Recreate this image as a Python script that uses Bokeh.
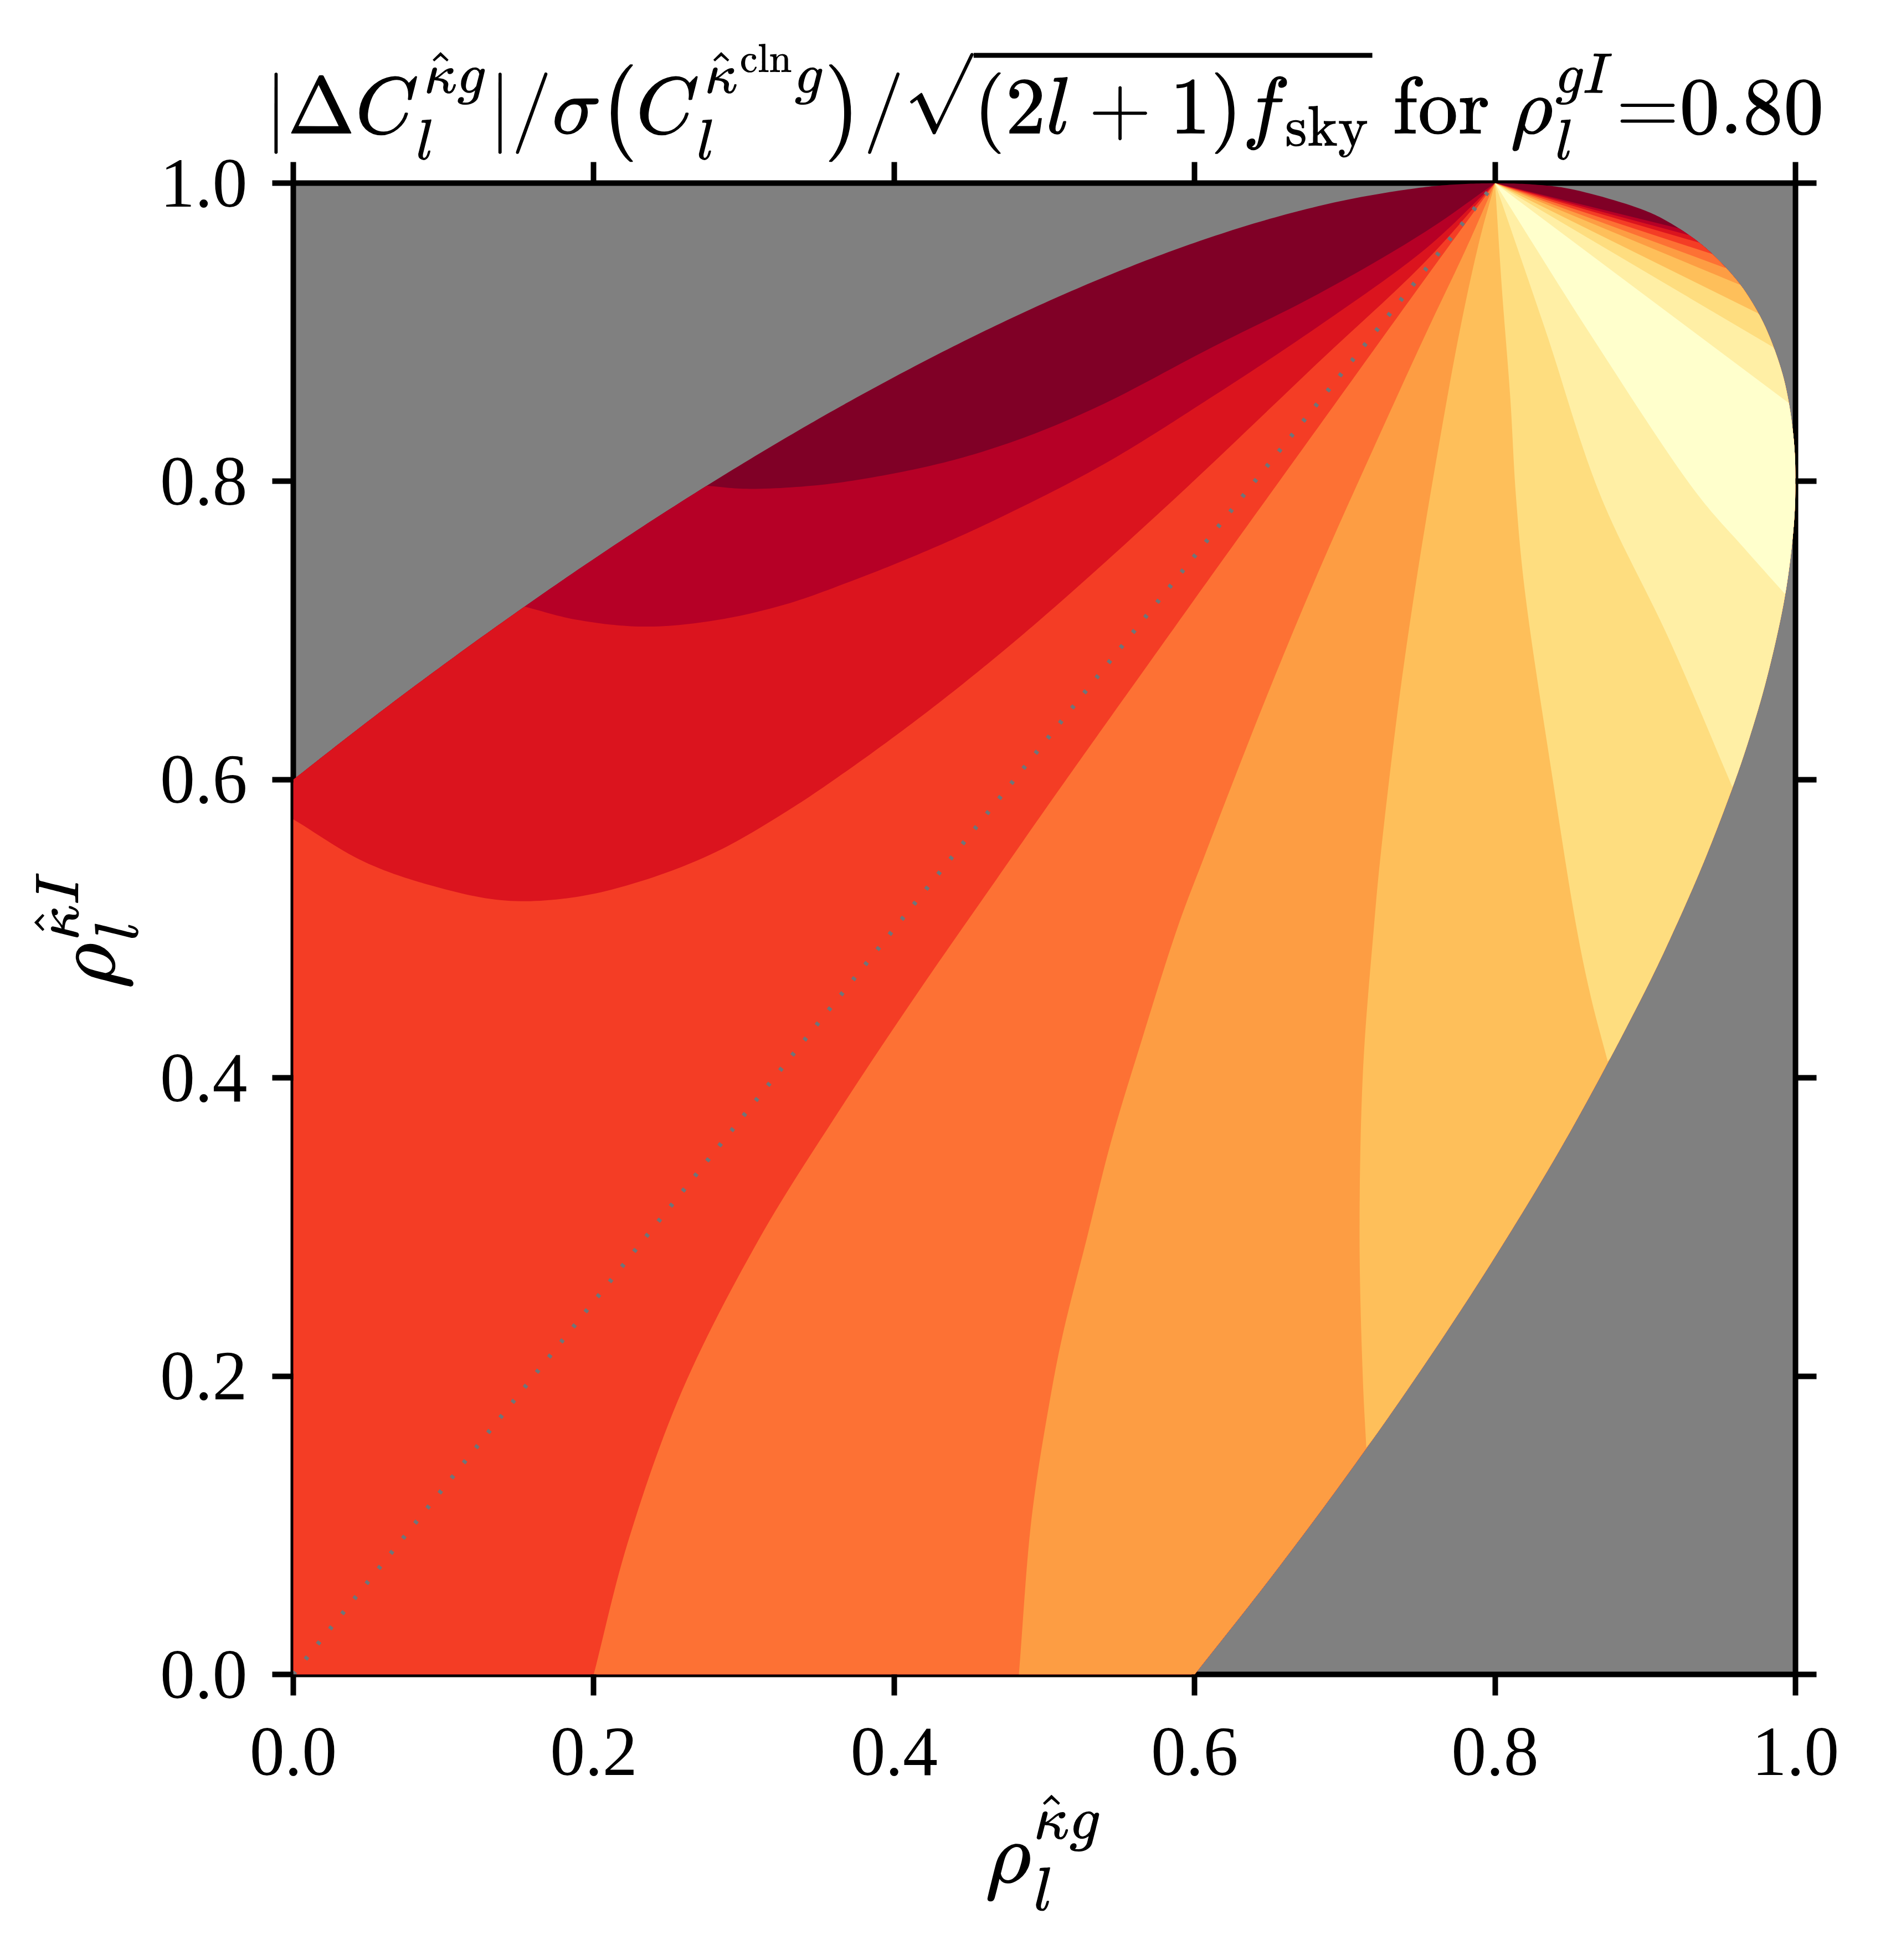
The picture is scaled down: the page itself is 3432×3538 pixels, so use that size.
from bokeh.plotting import figure
from bokeh.models import Range1d, FixedTicker, LinearAxis, PrintfTickFormatter
from bokeh.embed import file_html
from bokeh.resources import INLINE

# ---------------- data ----------------
rho_gI = 0.80
tick_values = [0.0, 0.2, 0.4, 0.6, 0.8, 1.0]

# band colours, lowest value (k0) to highest (k9)
band_colors = ["#ffffcc", "#ffefa5", "#fedd7f", "#febf5a", "#fd9d43",
               "#fd7134", "#f43d25", "#db141e", "#b60026", "#800026"]

# edge of the allowed (positive-definite) region, counter-clockwise from the apex (0.8, 1.0)
edge_x = [0.8, 0.775, 0.75, 0.7, 0.65, 0.6, 0.55, 0.5, 0.45, 0.4, 0.35, 0.3, 0.25, 0.2, 0.15,
          0.1, 0.05, 0.0, 0.0, 0.6, 0.65, 0.7, 0.75, 0.8, 0.85, 0.9, 0.92, 0.94, 0.96, 0.97,
          0.98, 0.99, 0.995, 0.999, 1.0, 0.999, 0.995, 0.99, 0.98, 0.97, 0.96, 0.94, 0.92,
          0.9, 0.85, 0.825, 0.8]
edge_y = [1.0, 0.9992, 0.9969, 0.9885, 0.976, 0.96, 0.9411, 0.9196, 0.8958, 0.8699, 0.8421,
          0.8124, 0.781, 0.7479, 0.7132, 0.677, 0.6393, 0.6, 0.0, 0.0, 0.064, 0.1315, 0.2031,
          0.28, 0.3639, 0.4585, 0.5009, 0.5473, 0.6, 0.6301, 0.6646, 0.7074, 0.7361, 0.7724,
          0.8, 0.826, 0.8559, 0.8766, 0.9034, 0.9219, 0.936, 0.9567, 0.9712, 0.9815, 0.9961,
          0.9991, 1.0]
edge_corners = [17, 18, 19]   # sharp corners of the region: (0,0.6), (0,0), (0.6,0)

# contour lines on the left/lower side of the light wedge (from the apex to the edge)
c98_x = [0.8, 0.7539, 0.6824, 0.611, 0.5395, 0.4898, 0.4428, 0.3957, 0.3487, 0.3017, 0.276]
c98_y = [1.0, 0.9676, 0.9257, 0.8896, 0.852, 0.8306, 0.8152, 0.8045, 0.7974, 0.795, 0.797]
c87_x = [0.8, 0.7539, 0.6824, 0.611, 0.5395, 0.4663, 0.4192, 0.3722, 0.3272, 0.2802, 0.2332, 0.1881, 0.154]
c87_y = [1.0, 0.9561, 0.904, 0.8563, 0.8115, 0.7737, 0.7524, 0.7334, 0.7174, 0.7067, 0.7026, 0.7073, 0.716]
c76_x = [0.8, 0.7539, 0.6824, 0.611, 0.5763, 0.5133, 0.4663, 0.4192, 0.3705, 0.3292, 0.2822,
         0.2352, 0.1881, 0.1411, 0.094, 0.047, 0.0]
c76_y = [1.0, 0.9477, 0.8798, 0.8113, 0.7787, 0.7214, 0.681, 0.6433, 0.6073, 0.5792, 0.5519,
         0.5331, 0.5213, 0.5189, 0.5284, 0.545, 0.5734]
c65_x = [0.8, 0.7539, 0.6824, 0.611, 0.5763, 0.5395, 0.5026, 0.468, 0.4139, 0.3621,
         0.3104, 0.2587, 0.2225, 0.2]
c65_y = [1.0, 0.9365, 0.8365, 0.7365, 0.6875, 0.6355, 0.583, 0.533, 0.4545, 0.376,
         0.2925, 0.19, 0.0879, 0.0]
c54_x = [0.8, 0.7807, 0.7549, 0.7182, 0.6824, 0.6467, 0.6056, 0.5889, 0.5635, 0.5442, 0.5282,
         0.5122, 0.5035, 0.4915, 0.483]
c54_y = [1.0, 0.956, 0.9011, 0.8202, 0.7393, 0.6526, 0.5462, 0.5016, 0.4211, 0.3566, 0.2922,
         0.2278, 0.183, 0.105, 0.0]
c43_x = [0.8, 0.7897, 0.7771, 0.7629, 0.7485, 0.736, 0.7235, 0.7194, 0.7121, 0.7098, 0.7121, 0.7143]
c43_y = [1.0, 0.9618, 0.904, 0.826, 0.7393, 0.6526, 0.5462, 0.5016, 0.405, 0.2922, 0.1955, 0.152]
c32_x = [0.8, 0.8045, 0.8102, 0.8138, 0.8197, 0.8384, 0.8544, 0.864, 0.875]
c32_y = [1.0, 0.93, 0.855, 0.7916, 0.7277, 0.6, 0.4998, 0.4533, 0.411]
c21_x = [0.8, 0.834, 0.8697, 0.916, 0.958]
c21_y = [1.0, 0.9, 0.7916, 0.6938, 0.595]
c10_x = [0.8, 0.8656, 0.9345, 0.966, 0.993]
c10_y = [1.0, 0.8952, 0.7916, 0.755, 0.7245]

# contour lines on the upper-right side of the light wedge (apex to edge)
u10_x = [0.8, 0.9955]
u10_y = [1.0, 0.8525]
u21_x = [0.8, 0.985]
u21_y = [1.0, 0.89]
u32_x = [0.8, 0.975]
u32_y = [1.0, 0.9127]
u43_x = [0.8, 0.963]
u43_y = [1.0, 0.9318]
u54_x = [0.8, 0.953]
u54_y = [1.0, 0.9432]
u65_x = [0.8, 0.944]
u65_y = [1.0, 0.9526]
u76_x = [0.8, 0.935]
u76_y = [1.0, 0.9603]
u87_x = [0.8, 0.928]
u87_y = [1.0, 0.9654]
u98_x = [0.8, 0.922]
u98_y = [1.0, 0.9697]

# dotted line rho^{kI} = rho^{kg} / rho^{gI}
dot_x = [0.0, 0.8]
dot_y = [0.0, 1.0]

TITLE = (r"$$|\Delta C_l^{\hat{\kappa}g}|/\sigma\bigl(C_l^{\hat{\kappa}^{\mathrm{cln}}g}\bigr)"
         r"/\sqrt{\smash[b]{(2l+1)f_{\mathrm{sky}}}}\ \text{for}\ \rho_l^{gI}\text{=0.80}$$")
XLABEL = r"$$\rho_l^{\hat{\kappa}g}$$"
YLABEL = r"$$\rho_l^{\hat{\kappa}I}$$"


# ---------------- geometry helpers (smoothing of the read points) ----------------
def _lerp(p, q, ta, tb, t):
    if tb == ta:
        return p
    a = (tb - t) / (tb - ta)
    b = (t - ta) / (tb - ta)
    return (a * p[0] + b * q[0], a * p[1] + b * q[1])


def smooth(xs, ys, n=14):
    pts = list(zip(xs, ys))
    if len(pts) < 3:
        return list(xs), list(ys)
    first = (2 * pts[0][0] - pts[1][0], 2 * pts[0][1] - pts[1][1])
    last = (2 * pts[-1][0] - pts[-2][0], 2 * pts[-1][1] - pts[-2][1])
    P = [first] + pts + [last]
    ox, oy = [pts[0][0]], [pts[0][1]]

    def tj(ti, a, b):
        return ti + max(((b[0] - a[0]) ** 2 + (b[1] - a[1]) ** 2) ** 0.25, 1e-9)

    for i in range(1, len(P) - 2):
        a, b, c, d = P[i - 1], P[i], P[i + 1], P[i + 2]
        t0 = 0.0
        t1 = tj(t0, a, b)
        t2 = tj(t1, b, c)
        t3 = tj(t2, c, d)
        for k in range(1, n + 1):
            t = t1 + (t2 - t1) * k / n
            A1 = _lerp(a, b, t0, t1, t)
            A2 = _lerp(b, c, t1, t2, t)
            A3 = _lerp(c, d, t2, t3, t)
            B1 = _lerp(A1, A2, t0, t2, t)
            B2 = _lerp(A2, A3, t1, t3, t)
            C = _lerp(B1, B2, t1, t2, t)
            ox.append(C[0])
            oy.append(C[1])
    return ox, oy


def smooth_edge():
    cuts = [0] + edge_corners + [len(edge_x) - 1]
    ox, oy = [], []
    for s, e in zip(cuts[:-1], cuts[1:]):
        sx, sy = smooth(edge_x[s:e + 1], edge_y[s:e + 1])
        if ox:
            sx, sy = sx[1:], sy[1:]
        ox += sx
        oy += sy
    return ox, oy


EX, EY = smooth_edge()


def _edge_params():
    out = [0.0]
    for i in range(len(EX) - 1):
        dx = EX[i + 1] - EX[i]
        dy = EY[i + 1] - EY[i]
        out.append(out[-1] + (dx * dx + dy * dy) ** 0.5)
    return out


EDGE_T = _edge_params()


def edge_param(px, py):
    best = None
    for i in range(len(EX) - 1):
        ax, ay = EX[i], EY[i]
        dx, dy = EX[i + 1] - ax, EY[i + 1] - ay
        l2 = dx * dx + dy * dy
        if l2 == 0:
            continue
        t = max(0.0, min(1.0, ((px - ax) * dx + (py - ay) * dy) / l2))
        d = (ax + t * dx - px) ** 2 + (ay + t * dy - py) ** 2
        if best is None or d < best[0]:
            best = (d, EDGE_T[i] + t * l2 ** 0.5)
    return best[1]


def region(lx, ly, ux, uy):
    lx, ly = smooth(lx, ly)
    ux, uy = smooth(ux, uy)
    tl = edge_param(lx[-1], ly[-1])
    tu = edge_param(ux[-1], uy[-1])
    xs, ys = list(lx), list(ly)
    for x, y, t in zip(EX, EY, EDGE_T):
        if tl < t < tu:
            xs.append(x)
            ys.append(y)
    xs += list(reversed(ux))
    ys += list(reversed(uy))
    return xs, ys


pairs = [(c98_x, c98_y, u98_x, u98_y), (c87_x, c87_y, u87_x, u87_y),
         (c76_x, c76_y, u76_x, u76_y), (c65_x, c65_y, u65_x, u65_y),
         (c54_x, c54_y, u54_x, u54_y), (c43_x, c43_y, u43_x, u43_y),
         (c32_x, c32_y, u32_x, u32_y), (c21_x, c21_y, u21_x, u21_y),
         (c10_x, c10_y, u10_x, u10_y)]

# ---------------- figure ----------------
FRAME_L, FRAME_R, FRAME_T, FRAME_B = 529, 175, 330, 500
p = figure(width=3416, height=3522, x_range=Range1d(0, 1), y_range=Range1d(0, 1),
           output_backend="svg", toolbar_location=None,
           min_border_left=FRAME_L, min_border_right=FRAME_R,
           min_border_top=FRAME_T, min_border_bottom=FRAME_B,
           background_fill_color="#808080", border_fill_color="white")
p.grid.visible = False
p.outline_line_color = "black"
p.outline_line_width = 10

# allowed region filled with the top colour, then nested bands painted over it
p.patch(EX, EY, fill_color=band_colors[9], line_color=None)
for k, (lx, ly, ux, uy) in enumerate(pairs):
    xs, ys = region(lx, ly, ux, uy)
    p.patch(xs, ys, fill_color=band_colors[8 - k], line_color=None)

p.line(dot_x, dot_y, line_color="#6f7579", line_width=8, line_dash="6 29")

ticker = FixedTicker(ticks=tick_values)
TICK_FONT = "Liberation Serif"


def style_axis(ax, show_labels, standoff):
    ax.ticker = ticker
    ax.formatter = PrintfTickFormatter(format="%.1f")
    ax.axis_line_color = None
    ax.major_tick_in = 0
    ax.major_tick_out = 38
    ax.major_tick_line_width = 10
    ax.major_tick_line_color = "black"
    ax.minor_tick_line_color = None
    ax.major_label_text_font = TICK_FONT
    if show_labels:
        ax.major_label_text_color = "black"
        ax.major_label_text_font_size = "126px"
        ax.major_label_standoff = standoff
    else:
        ax.major_label_text_color = None
        ax.major_label_text_alpha = 0
        ax.major_label_text_font_size = "0px"
        ax.major_label_standoff = 0


xa = p.xaxis[0]
ya = p.yaxis[0]
style_axis(xa, True, 59)
style_axis(ya, True, 45)
xa.axis_label = XLABEL
ya.axis_label = YLABEL
for ax in (xa, ya):
    ax.axis_label_text_font_size = "132px"
    ax.axis_label_text_color = "black"
xa.axis_label_standoff = 22
ya.axis_label_standoff = 36

top_axis = LinearAxis()
right_axis = LinearAxis()
style_axis(top_axis, False, 0)
style_axis(right_axis, False, 0)
p.add_layout(top_axis, "above")
p.add_layout(right_axis, "right")

p.title.text = TITLE
p.title.align = "center"
p.title.text_font_size = "122px"
p.title.text_font_style = "normal"
p.title.text_color = "black"
p.title.standoff = 0
p.title.offset = 0

open("out.html", "w").write(file_html(p, INLINE, title="contour"))
